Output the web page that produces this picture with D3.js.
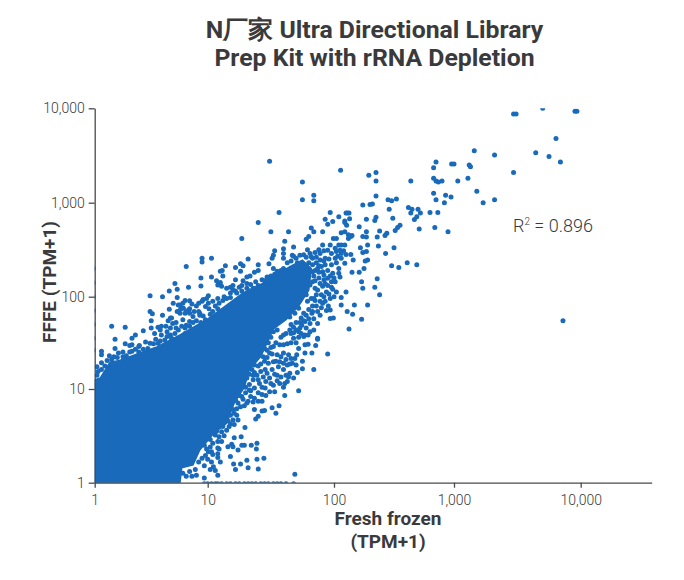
<!DOCTYPE html>
<html><head><meta charset="utf-8">
<script src="https://cdn.jsdelivr.net/npm/d3@7"></script>
<style>
html,body{margin:0;padding:0;background:#fff}
svg{display:block}
text{font-family:Roboto,sans-serif;fill:#3a3a3c}
.tick text{font-weight:300;font-size:14px;fill:#3a3a3c}
.bold{font-weight:700}
</style></head><body>
<script>
const titleLines = ["N厂家 Ultra Directional Library", "Prep Kit with rRNA Depletion"];
const xLabelLines = ["Fresh frozen", "(TPM+1)"];
const yLabel = "FFFE (TPM+1)";
const rLabel = " = 0.896";
const tickValuesX = [1, 10, 100, 1000, 10000];
const tickValuesY = [1, 10, 100, 1000, 10000];
const xDomain = [1, 10, 100, 1000, 10000, 36000];
const yDomain = [1, 10, 100, 1000, 10000];

// log10(Fresh frozen TPM+1), log10(FFPE TPM+1): outline of the saturated core of the cloud
const coreLog = [[0,0],[0,1.10],[.05,1.12],[.135,1.29],[.22,1.31],[.40,1.39],[.55,1.455],[.755,1.585],[.99,1.75],[1.15,1.91],[1.28,2.04],[1.44,2.145],[1.65,2.32],[1.75,2.39],[1.82,2.30],[1.80,2.07],[1.72,1.90],[1.62,1.75],[1.52,1.65],[1.47,1.50],[1.42,1.35],[1.33,1.21],[1.29,1.02],[1.21,.85],[1.15,.635],[1.05,.53],[.93,.35],[.87,.19],[.77,.16],[.755,0]];

// Genes read individually, high expression
const highLog = [[3.47,3.94],[3.49,3.94],[3.70,4.00],[3.955,3.97],[3.97,3.97],[3.805,3.68],[3.16,3.55],[3.32,3.505],[3.645,3.53],[3.75,3.49],[3.84,3.43],[3.47,3.32],[2.85,3.43],[2.83,3.37],[2.98,3.41],[3.00,3.41],[3.12,3.40],[3.13,3.38],[2.055,3.345],[2.29,3.29],[2.35,3.32],[2.35,3.23],[2.64,3.23],[2.83,3.26],[2.85,3.23],[2.87,3.22],[2.90,3.23],[3.03,3.23],[3.11,3.26],[3.18,3.12],[2.83,3.10],[2.93,3.08],[2.975,3.06],[2.85,3.03],[2.92,3.00],[3.23,3.00],[3.32,3.03],[2.35,3.07],[2.45,3.03],[2.48,3.02],[2.52,3.04],[2.24,2.975],[2.32,2.985],[2.30,2.98],[2.46,2.93],[2.62,2.95],[2.65,2.93],[2.70,2.93],[2.64,2.89],[2.72,2.89],[2.80,2.895],[2.865,2.895],[2.11,2.89],[2.125,2.89],[2.10,2.89],[2.49,2.835],[2.35,2.845],[2.34,2.81],[2.27,2.825],[2.13,2.83],[2.09,2.805],[2.09,2.79],[2.69,2.85],[2.67,2.82],[2.21,2.745],[2.105,2.76],[2.55,2.76],[2.53,2.735],[2.51,2.705],[2.71,2.72],[2.84,2.735],[2.95,2.69],[2.38,2.70],[2.27,2.69],[2.44,2.675],[2.425,2.65],[2.24,2.64],[2.27,2.635],[2.36,2.635],[2.12,2.66],[2.15,2.65],[2.28,2.55],[2.37,2.54],[2.50,2.52],[2.22,2.52],[2.24,2.47],[2.27,2.48],[2.43,2.46],[2.14,2.45],[2.16,2.39],[2.28,2.39],[2.26,2.38],[2.61,2.36],[2.69,2.34],[2.48,2.33],[2.54,2.31],[2.25,2.30],[2.15,2.26],[2.21,2.26],[2.36,2.19],[2.23,2.16],[2.34,2.10],[2.24,2.09],[2.10,2.05],[2.38,2.02],[2.06,1.99],[2.17,1.91],[2.28,1.91],[2.06,1.91],[2.11,1.84],[2.155,1.81],[2.23,1.755],[2.125,1.65],[3.86,1.74]];

// Genes above the diagonal (FFPE higher)
const upperLog = [[1.49,3.44],[1.75,3.22],[1.75,3.03],[1.84,3.08],[1.84,3.02],[1.565,2.895],[1.97,2.895],[2.04,2.85],[1.93,2.825],[1.99,2.80],[1.40,2.79],[1.50,2.69],[1.64,2.69],[1.91,2.69],[1.82,2.73],[1.84,2.69],[1.95,2.77],[1.27,2.62],[1.80,2.64],[1.78,2.61],[1.61,2.59],[1.68,2.53],[1.60,2.51],[1.60,2.46],[1.60,2.41],[1.53,2.49],[1.52,2.44],[1.51,2.41],[1.79,2.50],[1.81,2.46],[1.82,2.425],[1.68,2.43],[.95,2.41],[.95,2.37],[1.03,2.41],[1.32,2.40],[.81,2.32],[1.14,2.33],[1.115,2.28],[1.10,2.27],[1.22,2.31],[1.26,2.35],[1.28,2.33],[1.26,2.27],[1.40,2.34],[1.40,2.28],[1.37,2.26],[1.485,2.35],[1.52,2.30],[.94,2.20],[1.03,2.21],[1.12,2.22],[1.07,2.17],[1.10,2.15],[1.11,2.11],[1.08,2.125],[1.22,2.18],[1.31,2.21],[1.335,2.22],[1.28,2.17],[1.31,2.14],[.71,2.14],[.73,2.08],[.66,2.06],[.83,2.10],[.94,2.115],[.49,2.01],[.60,2.00],[.49,1.84],[.51,1.815],[.66,1.865],[.60,1.80],[.67,1.77],[.50,1.74],[.15,1.68],[.27,1.67],[.695,1.93],[.74,1.91],[.78,1.93],[.84,1.955],[.73,1.84],[.76,1.865],[.95,1.95],[.99,1.98],[.96,1.97],[.83,1.855],[.80,1.82],[.87,1.785],[.93,1.82],[1.47,2.21],[1.43,2.18],[1.49,2.16],[1.55,2.19],[1.57,2.14],[1.15,2.09],[1.20,2.07],[1.18,2.04],[1.23,2.04],[1.31,2.09],[1.005,2.01],[1.08,1.98],[1.09,1.93],[1.005,1.93],[.98,1.895],[.73,1.99],[.80,1.96],[.755,1.91],[.785,1.875],[.81,1.84],[.84,1.87],[.68,1.77],[.65,1.74],[.93,1.80],[.92,1.84],[.98,1.75],[.78,1.75],[.84,1.73],[.81,1.69],[.67,1.66],[.74,1.64],[.50,1.66],[.56,1.67],[.59,1.68],[.43,1.63],[.36,1.585],[.33,1.55],[.53,1.60],[.39,1.46],[.33,1.48],[.49,1.495],[.56,1.495],[.67,1.585],[.59,1.585],[.18,1.54],[.06,1.41],[.06,1.37],[.18,1.44],[.27,1.49],[.31,1.47],[.395,1.47],[.21,1.39],[.25,1.40],[.31,1.40],[.39,1.40],[.06,1.285],[.02,1.24],[.11,1.31],[.15,1.32],[.02,1.15],[.06,1.21],[.58,1.64],[.64,1.62],[.80,1.60],[.755,1.82],[.84,1.82],
[.03,1.19],[.09,1.25],[.13,1.36],[.17,1.35],[.20,1.34],[.25,1.35],[.28,1.36],[.33,1.41],[.36,1.43],[.43,1.43],[.47,1.44],[.45,1.51],[.52,1.49],[.54,1.54],[.58,1.52],[.62,1.53],[.64,1.57],[.68,1.55],[.71,1.60],[.72,1.66],[.63,1.68],[.69,1.71],[.72,1.72],[.77,1.68],[.80,1.66],[.84,1.68],[.87,1.72],[.90,1.74],[.94,1.72],[.96,1.79],[.88,1.84],[.90,1.90],[.86,1.92],[.92,1.93],[1.02,1.81],[1.04,1.84],[1.01,1.87],[1.06,1.90],[1.04,1.95],[1.08,1.87],[1.12,1.96],[1.15,1.98],[1.13,2.00],[1.18,2.10],[1.20,2.12],[1.25,2.10],[1.27,2.12],[1.27,2.06],[1.33,2.06],[1.36,2.09],[1.38,2.16],[1.40,2.12],[1.45,2.17],[1.48,2.20],[1.50,2.22],[1.53,2.24],[1.57,2.24],[1.58,2.28],[1.63,2.36],[1.66,2.38],[1.70,2.41],[1.73,2.44],[1.78,2.42],[1.80,2.36],[1.83,2.34],[1.86,2.36],[1.88,2.33],[1.67,2.44],[1.71,2.36],[1.60,2.30],[1.55,2.27],[1.62,2.26],[1.34,2.13],[1.22,2.06],[1.18,1.99]];

// Genes in the dense arm near 100/100
const armLog = [[2.06,2.68],[2.09,2.69],[2.12,2.62],[2.14,2.64],[1.995,2.62],[2.02,2.62],[1.89,2.46],[1.91,2.55],[1.97,2.55],[2.04,2.55],[2.06,2.55],[2.09,2.55],[2.02,2.48],[2.06,2.46],[2.06,2.41],[2.09,2.355],[1.89,2.39],[1.93,2.41],[1.98,2.46],[2.05,2.495],[2.01,2.515],[1.95,2.495],[1.83,2.41],[1.76,2.445],[1.85,2.28],[1.87,2.30],[1.83,2.265],[1.93,2.34],[1.98,2.34],[2.04,2.30],[2.04,2.25],[2.05,2.21],[1.91,2.265],[1.95,2.195],[1.98,2.16],[2.01,2.16],[1.79,2.21],[1.83,2.16],[1.81,2.125],[1.85,2.09],[1.90,2.02],[1.89,2.14],[1.91,2.11],[1.86,2.02],[1.82,1.98],[1.78,2.02],[1.97,1.98],[1.93,1.95],[1.89,1.95],[1.955,1.90],[1.97,1.855],[1.83,1.90],[1.79,1.95],[1.87,1.84],[1.89,1.80],[1.825,1.82],[1.76,1.82],[1.72,1.875],[1.77,1.73],[1.745,1.69],[1.81,1.71],[1.87,1.71],[1.69,1.82],[1.65,1.78],[1.995,1.77],[1.97,1.765],[1.68,1.67],[1.72,1.62],[1.77,1.585],[1.795,1.585],[1.87,1.55],
[1.90,2.32],[1.95,2.28],[1.99,2.25],[1.88,2.20],[1.92,2.18],[1.85,2.17],[1.99,2.08],[1.94,2.05],[1.87,2.07],[1.95,2.12],[2.02,2.05],[2.00,2.00],[1.90,1.88],[1.85,1.96],[1.94,1.85],[1.78,1.80],[1.74,1.77],[1.70,1.72],[1.66,1.70],[1.84,1.76],[1.78,1.66],[1.84,1.64],[1.74,1.60],[1.81,1.62],[1.73,1.72],[1.92,2.38],[1.96,2.40],[2.01,2.41],[2.02,2.36],[2.08,2.49],[2.10,2.45],[1.86,2.42],[2.03,2.43],[1.92,2.49],[1.88,2.50],[1.85,2.47],
[1.92,2.23],[1.97,2.22],[2.00,2.20],[1.88,2.26],[1.84,2.22],[1.93,2.14],[1.98,2.10],[1.84,1.98],[1.92,2.00],[1.96,2.03],[1.80,1.86],[1.86,1.90],[1.91,1.93],[1.83,1.84],[1.76,1.74],[1.80,1.76],[1.73,1.66],[1.70,1.64],[1.66,1.60]];

// Genes below the diagonal (Fresh frozen higher)
const lowerLog = [[1.76,1.57],[1.87,1.54],[1.77,1.48],[1.795,1.485],[1.855,1.47],[1.72,1.44],[1.705,1.37],[1.69,1.33],[1.77,1.39],[1.825,1.39],[1.95,1.38],[1.75,1.30],[1.75,1.22],[1.67,1.28],[1.71,1.18],[1.84,1.21],[1.65,1.17],[1.64,1.13],[1.72,.98],[1.61,.93],[1.565,.82],[1.51,.80],[1.54,.74],[1.45,.77],[1.43,.765],[1.37,.78],[1.40,.71],[1.38,.68],[1.295,.59],[1.265,.49],[1.21,.48],[1.39,.42],[1.385,.36],[1.345,.40],[1.29,.40],[1.27,.40],[1.19,.41],[1.20,.385],[1.16,.385],[1.24,.35],[1.18,.28],[1.445,.26],[1.39,.25],[1.31,.24],[1.205,.20],[1.26,.20],[1.22,.14],[1.32,.16],[1.40,.145],[1.69,.09],[1.08,.37],[1.08,.31],[1.08,.27],[1.10,.22],[1.03,.22],[1.045,.17],[1.06,.13],[1.08,.08],[.97,.18],[1.005,.33],[.99,.36],[1.55,1.64],[1.60,1.585],[1.65,1.64],[1.68,1.55],[1.63,1.49],[1.57,1.48],[1.52,1.46],[1.49,1.39],[1.55,1.37],[1.60,1.39],[1.64,1.37],[1.57,1.295],[1.52,1.295],[1.48,1.28],[1.455,1.21],[1.51,1.21],[1.56,1.24],[1.60,1.21],[1.63,1.26],[1.35,1.21],[1.39,1.15],[1.44,1.13],[1.49,1.12],[1.55,1.15],[1.57,1.06],[1.52,1.04],[1.61,1.06],[1.63,1.08],[1.41,1.06],[1.37,1.01],[1.455,1.01],[1.49,.97],[1.53,.97],[1.43,.94],[1.37,.90],[1.34,.92],[1.32,.87],[1.40,.87],[1.31,.85],[1.28,.89],[1.24,.85],[1.23,.79],[1.20,.78],[1.18,.72],[1.23,.72],[1.20,.67],[1.24,.67],[1.18,.63],[1.15,.56],[1.11,.545],[1.08,.44],[1.06,.51],[1.03,.33],[.81,.07],[.86,.07],[.90,.08],[.97,.05],[.78,.10],
[1.47,1.60],[1.50,1.56],[1.52,1.62],[1.58,1.56],[1.62,1.60],[1.48,1.50],[1.54,1.50],[1.60,1.48],[1.66,1.50],[1.70,1.50],[1.68,1.61],[1.72,1.56],[1.44,1.35],[1.47,1.42],[1.51,1.38],[1.58,1.35],[1.62,1.32],[1.54,1.30],[1.66,1.33],[1.45,1.30],[1.42,1.27],[1.60,1.28],[1.65,1.27],[1.70,1.26],[1.33,1.16],[1.37,1.18],[1.42,1.19],[1.47,1.17],[1.53,1.16],[1.58,1.13],[1.62,1.15],[1.36,1.10],[1.40,1.10],[1.46,1.08],[1.50,1.06],[1.55,1.09],[1.68,1.12],[1.33,1.05],[1.30,1.02],[1.43,1.02],[1.60,1.02],[1.30,.96],[1.34,.98],[1.40,.96],[1.46,.93],[1.27,.92],[1.36,.86],[1.43,.87],[1.19,.86],[1.22,.88],[1.26,.81],[1.17,.78],[1.14,.70],[1.16,.66],[1.21,.62],[1.17,.60],[1.12,.60],[1.07,.55],[1.09,.49],[1.13,.50],[1.02,.46],[1.04,.42],[.97,.40],[1.02,.38],[1.11,.44],[1.09,.36],[1.04,.30],[.98,.29],[.95,.26],[1.00,.25],[.92,.22],[.89,.14],[.84,.12],[1.02,.14],
[1.45,1.44],[1.50,1.45],[1.47,1.34],[1.40,1.25],[1.37,1.26],[1.36,1.15],[1.31,1.12],[1.33,.99],[1.25,.93],[1.29,.82],[1.21,.74]];

// Genes sitting on the axes (one sample at TPM+1 = 1)
const onXAxisLog = [.97,1.00,1.03,1.06,1.08,1.11,1.15,1.18,1.22,1.25,1.29,1.32,1.35,1.38,1.42,1.45,1.48,1.52,1.55,1.58,1.62,1.68];
const onYAxisLog = [1.42,1.55,1.70,1.85,2.00,2.15,2.30];

const W = 684, H = 580;
const blue = "#196abb";
const svg = d3.select("body").append("svg").attr("width", W).attr("height", H);

const x = d3.scaleLog().domain(xDomain).range([94.7, 207.7, 334, 454, 580.7, 651.7]);
const y = d3.scaleLog().domain(yDomain).range([482.7, 389, 296.7, 202.7, 108.3]);
const un = l => Math.pow(10, l);

svg.append("defs").append("clipPath").attr("id", "plot").append("rect")
  .attr("x", x(1)).attr("y", y(10000)).attr("width", x(36000) - x(1)).attr("height", y(1) - y(10000));

const g = svg.append("g").attr("clip-path", "url(#plot)");
g.append("path")
  .attr("d", d3.line().x(d => x(un(d[0]))).y(d => y(un(d[1])))(coreLog) + "Z")
  .attr("fill", blue).attr("stroke", blue).attr("stroke-width", 1.5);

const pts = [].concat(highLog, upperLog, armLog, lowerLog,
  onXAxisLog.map(l => [l, -0.012]), onYAxisLog.map(l => [-0.012, l]));
g.selectAll("circle").data(pts).join("circle")
  .attr("cx", d => x(un(d[0]))).attr("cy", d => y(un(d[1])))
  .attr("r", 2.5).attr("fill", blue);

const fmt = d3.format(",");
const ax = svg.append("g").attr("transform", `translate(0,${y(1)})`)
  .call(d3.axisBottom(x).tickValues(tickValuesX).tickFormat(fmt).tickSize(5).tickSizeOuter(0).tickPadding(7));
const ay = svg.append("g").attr("transform", `translate(${x(1)},0)`)
  .call(d3.axisLeft(y).tickValues(tickValuesY).tickFormat(fmt).tickSize(6).tickSizeOuter(0).tickPadding(4));
[ax, ay].forEach(a => {
  a.attr("font-family", null).attr("font-size", null);
  a.selectAll("path,line").attr("stroke", "#4a4a4c").attr("stroke-width", 1.3);
});

svg.selectAll(".t").data(titleLines).join("text").attr("class", "t bold")
  .attr("x", 374.5).attr("y", (d, i) => 38 + i * 28).attr("text-anchor", "middle")
  .attr("font-size", 24.8).text(d => d);
svg.selectAll(".xl").data(xLabelLines).join("text").attr("class", "xl bold")
  .attr("x", 388).attr("y", (d, i) => 525 + i * 23).attr("text-anchor", "middle")
  .attr("font-size", 19).text(d => d);
svg.append("text").attr("class", "bold").attr("transform", "translate(56,282) rotate(-90)")
  .attr("text-anchor", "middle").attr("font-size", 19).text(yLabel);
const r = svg.append("text").attr("x", 513).attr("y", 231.5).attr("font-size", 18).attr("font-weight", 300);
r.append("tspan").text("R");
r.append("tspan").attr("font-size", 10).attr("dy", -7).text("2");
r.append("tspan").attr("dy", 7).text(rLabel);
</script>
</body></html>
